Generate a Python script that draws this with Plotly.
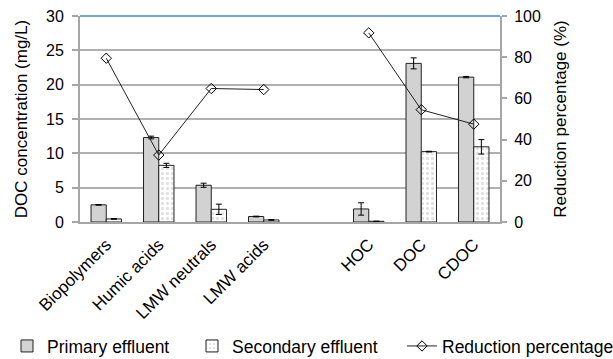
import plotly.graph_objects as go

categories = ["Biopolymers", "Humic acids", "LMW neutrals", "LMW acids", "", "HOC", "DOC", "CDOC"]
primary = [2.5, 12.3, 5.35, 0.8, None, 1.9, 23.1, 21.1]
primary_err = [0.05, 0.2, 0.3, 0.05, None, 0.9, 0.8, 0.1]
secondary = [0.45, 8.25, 1.85, 0.3, None, 0.1, 10.25, 10.95]
secondary_err = [0.05, 0.3, 0.75, 0.05, None, 0.0, 0.05, 1.05]
reduction = [79.5, 32.5, 64.8, 64.3, None, 91.8, 54.5, 47.5]

x = list(range(len(categories)))
font = "Liberation Sans, Arial, sans-serif"

fig = go.Figure()
fig.add_trace(go.Bar(
    x=x, y=primary, name="Primary effluent", legend="legend",
    marker=dict(color="#d2d2d2", line=dict(color="#222222", width=1)),
    error_y=dict(type="data", array=primary_err, color="#000000", thickness=1, width=3),
))
fig.add_trace(go.Bar(
    x=x, y=secondary, name="Secondary effluent", legend="legend2",
    marker=dict(color="#ffffff", line=dict(color="#222222", width=1),
                pattern=dict(shape=".", fgcolor="#c4c4c4", bgcolor="#ffffff", size=5, solidity=0.35)),
    error_y=dict(type="data", array=secondary_err, color="#000000", thickness=1, width=3),
))
fig.add_trace(go.Scatter(
    x=x, y=reduction, name="Reduction percentage", yaxis="y2", legend="legend3",
    mode="lines+markers", connectgaps=False,
    line=dict(color="#222222", width=1),
    marker=dict(symbol="diamond-open", size=8, color="#000000", line=dict(width=1)),
))

leg = dict(orientation="h", xref="container", yref="container", xanchor="left",
           y=0.036, yanchor="middle", font=dict(size=17.5), bgcolor="rgba(0,0,0,0)")

fig.update_layout(
    width=613, height=359,
    margin=dict(l=80, r=113, t=16, b=137, autoexpand=False),
    paper_bgcolor="white", plot_bgcolor="white",
    font=dict(family=font, size=16, color="#000000"),
    barmode="group", bargap=0.42, bargroupgap=0,
    showlegend=True,
    legend=dict(leg, x=7 / 613),
    legend2=dict(leg, x=192 / 613),
    legend3=dict(leg, x=402 / 613),
    xaxis=dict(tickmode="array", tickvals=x, ticktext=categories, tickangle=-45,
               range=[-0.5, 7.5], showgrid=False, showline=True, linecolor="#a6a6a6",
               linewidth=2, ticks="", tickfont=dict(size=17), ticklabelstandoff=4),
    yaxis=dict(title=dict(text="DOC concentration (mg/L)", font=dict(size=17), standoff=14),
               range=[0, 30], dtick=5, showgrid=True, gridcolor="#b0b0b0", gridwidth=2,
               showline=True, linecolor="#a6a6a6", linewidth=2, ticks="outside",
               ticklen=6, tickcolor="#a6a6a6", tickwidth=2, zeroline=False,
               tickfont=dict(size=16), ticklabelstandoff=5),
    yaxis2=dict(title=dict(text="Reduction percentage (%)", font=dict(size=17), standoff=14),
                overlaying="y", side="right", range=[0, 100], dtick=20, showgrid=False,
                showline=True, linecolor="#a6a6a6", linewidth=2, ticks="outside",
                ticklen=5, tickcolor="#a6a6a6", tickwidth=2, zeroline=False,
                tickfont=dict(size=16), ticklabelstandoff=4),
    shapes=[dict(type="line", xref="paper", yref="paper", x0=0, x1=1, y0=1, y1=1,
                 line=dict(color="#6fa8dc", width=2))],
)

fig.write_html("out.html", config={"displayModeBar": False},
               post_script="document.body.style.margin='0';")
